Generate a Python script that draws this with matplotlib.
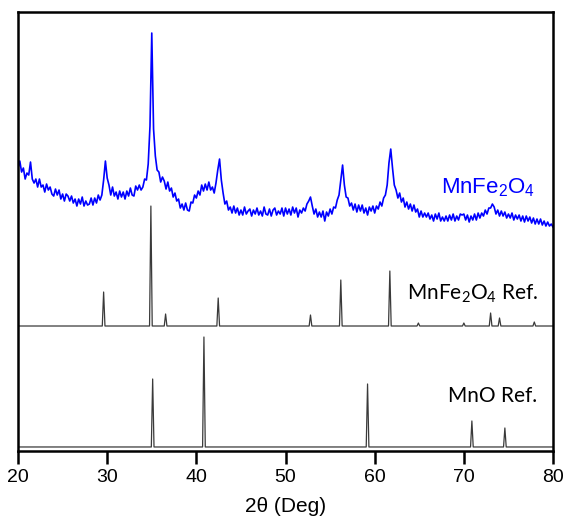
#!/usr/bin/env python3
"""XRD patterns: measured MnFe2O4 sample with MnFe2O4 and MnO reference sticks."""
import numpy as np
import matplotlib
matplotlib.use("Agg")
import matplotlib.pyplot as plt

plt.rcParams["font.family"] = ["Liberation Sans", "DejaVu Sans"]
plt.rcParams["mathtext.default"] = "regular"

# measured pattern, 2theta grid in 0.2 deg steps (intensity in arbitrary, offset units)
two_theta = np.round(np.arange(20.0, 80.001, 0.2), 1)
sample = [
    283, 290, 279, 283, 272, 278, 276, 289, 272, 268,   # 20
    272, 264, 272, 264, 266, 259, 267, 261, 264, 257,   # 22
    255, 262, 256, 261, 252, 257, 250, 257, 255, 250,   # 24
    255, 248, 252, 245, 252, 247, 254, 245, 250, 246,   # 26
    247, 253, 246, 253, 248, 256, 251, 256, 271, 290,   # 28
    273, 266, 256, 264, 255, 259, 252, 260, 254, 259,   # 30
    252, 260, 255, 263, 256, 255, 265, 261, 266, 261,   # 32
    264, 272, 271, 287, 325, 418, 322, 295, 281, 279,   # 34
    269, 274, 270, 262, 269, 260, 263, 254, 258, 250,   # 36
    252, 243, 247, 241, 248, 241, 240, 249, 248, 256,   # 38
    253, 260, 256, 266, 260, 267, 261, 269, 261, 264,   # 40
    258, 268, 281, 292, 271, 258, 247, 250, 241, 244,   # 42
    238, 245, 238, 243, 236, 241, 236, 244, 237, 240,   # 44
    242, 235, 241, 237, 243, 236, 240, 235, 244, 237,   # 46
    236, 242, 235, 241, 243, 236, 240, 237, 243, 235,   # 48
    243, 237, 242, 236, 244, 238, 243, 234, 241, 238,   # 50
    243, 240, 247, 250, 254, 245, 237, 242, 234, 239,   # 52
    234, 240, 230, 239, 235, 242, 237, 244, 243, 251,   # 54
    256, 271, 286, 266, 254, 253, 245, 248, 241, 247,   # 56
    239, 246, 240, 246, 238, 243, 236, 244, 240, 245,   # 58
    238, 245, 242, 249, 245, 253, 256, 266, 288, 302,   # 60
    283, 266, 261, 253, 258, 249, 253, 244, 249, 242,   # 62
    247, 240, 246, 239, 242, 234, 240, 234, 238, 234,   # 64
    238, 232, 236, 230, 237, 232, 238, 230, 234, 230,   # 66
    235, 230, 236, 231, 237, 230, 235, 231, 237, 236,   # 68
    237, 231, 236, 229, 235, 231, 237, 231, 238, 233,   # 70
    238, 235, 241, 237, 243, 243, 247, 244, 237, 241,   # 72
    235, 240, 235, 239, 233, 237, 233, 238, 231, 236,   # 74
    232, 236, 230, 235, 229, 235, 230, 234, 228, 233,   # 76
    227, 232, 227, 232, 226, 230, 225, 229, 225, 227,   # 78
    224,                                                # 80
]

# reference patterns: peak positions and heights above their own baseline
spinel_pos = [29.6, 34.9, 36.55, 42.45, 52.8, 56.2, 61.7, 64.9, 70.0, 73.0, 74.0, 77.9]
spinel_h = [34, 120, 12, 28, 11, 46, 55, 3, 3, 13, 8, 4]
spinel_base = 125

mno_pos = [35.1, 40.85, 59.2, 70.9, 74.6]
mno_h = [68, 110, 63, 26, 19]
mno_base = 4


def stick_trace(pos, heights, base, w=0.15):
    xs, ys = [20.0], [base]
    for p, h in zip(pos, heights):
        xs += [p - w, p, p + w]
        ys += [base, base + h, base]
    xs.append(80.0)
    ys.append(base)
    return xs, ys


fig = plt.figure(figsize=(5.65, 5.25), dpi=100)
ax = fig.add_axes([0.0319, 0.141, 0.9469, 0.836])

ax.plot(two_theta, sample, color="#0000ff", lw=1.2)
for pos, h, base in [(spinel_pos, spinel_h, spinel_base), (mno_pos, mno_h, mno_base)]:
    xs, ys = stick_trace(pos, h, base)
    ax.plot(xs, ys, color="#3a3a3a", lw=0.9)

ax.text(67.4, 258, "MnFe$_2$O$_4$", color="#0000ff", fontsize=16)
ax.text(63.6, 151, "MnFe$_2$O$_4$ Ref.", fontsize=15, family=["Lato", "DejaVu Sans"])
ax.text(68.2, 49, "MnO Ref.", fontsize=15, family=["Lato", "DejaVu Sans"])

ax.set_xlim(20, 80)
ax.set_ylim(0, 439)
ax.set_xticks(range(20, 81, 10))
ax.set_yticks([])
ax.tick_params(axis="x", direction="out", length=9, width=1.8, labelsize=14, pad=4)
for s in ax.spines.values():
    s.set_linewidth(1.8)
ax.set_xlabel("2θ (Deg)", fontsize=15, labelpad=8)

fig.savefig("out.png", dpi=100)
